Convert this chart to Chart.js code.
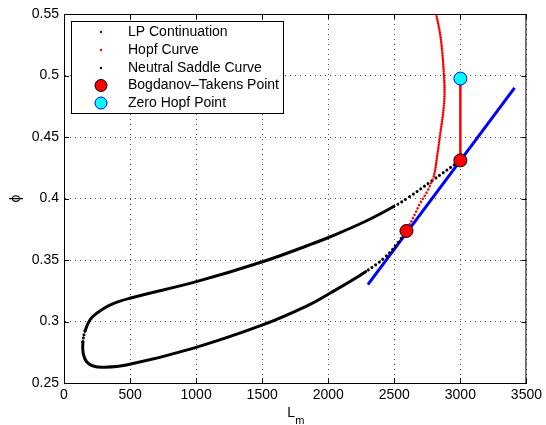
<!DOCTYPE html>
<html><head><meta charset="utf-8">
<script src="https://cdn.jsdelivr.net/npm/chart.js@4.4.0/dist/chart.umd.min.js"></script>
<style>html,body{margin:0;padding:0;background:#fff;}canvas{display:block;}</style>
</head><body>
<canvas id="c" width="546" height="425"></canvas>
<script>
// ---- data ----
const xTickValues = [0, 500, 1000, 1500, 2000, 2500, 3000, 3500];
const xTickLabels = ['0', '500', '1000', '1500', '2000', '2500', '3000', '3500'];
const yTickValues = [0.25, 0.3, 0.35, 0.4, 0.45, 0.5, 0.55];
const yTickLabels = ['0.25', '0.3', '0.35', '0.4', '0.45', '0.5', '0.55'];

const seriesNames = ['LP Continuation', 'Hopf Curve', 'Neutral Saddle Curve', 'Bogdanov\u2013Takens Point', 'Zero Hopf Point'];

const lpX = [2300, 3410];
const lpY = [0.330, 0.490];

const hopf1X = [2592, 2650, 2700, 2750, 2798, 2825, 2848, 2870, 2880, 2876, 2862, 2845, 2817, 2812];
const hopf1Y = [0.3736, 0.386, 0.397, 0.406, 0.418, 0.435, 0.453, 0.470, 0.485, 0.500, 0.520, 0.535, 0.550, 0.556];

const hopf2X = [3000, 3000];
const hopf2Y = [0.431, 0.4975];

const nsX = [2592, 2534, 2434, 2283, 2006, 1855, 1503, 975, 472, 296, 221, 171, 145, 143, 160, 196, 246, 347, 498, 1001, 1503, 1855, 2006, 2283, 2496, 2609, 2786, 3000];
const nsY = [0.3736, 0.3650, 0.3527, 0.3405, 0.3225, 0.3135, 0.2972, 0.2782, 0.2646, 0.2628, 0.2638, 0.2673, 0.2741, 0.2835, 0.2925, 0.3012, 0.3066, 0.3134, 0.3189, 0.3324, 0.3486, 0.3622, 0.3685, 0.3815, 0.3935, 0.4010, 0.4145, 0.4310];

const btX = [2592, 3000];
const btY = [0.3736, 0.4310];

const zhX = [3000];
const zhY = [0.4975];

const pts = (xs, ys) => xs.map((x, i) => ({x: x, y: ys[i]}));

const FONT = '"Liberation Sans", Arial, Helvetica, sans-serif';

const frame = {
  id: 'frame',
  afterDatasetsDraw(chart) {
    const {ctx, chartArea: a, scales} = chart;
    ctx.save();
    ctx.strokeStyle = '#000';
    ctx.lineWidth = 1;
    ctx.strokeRect(a.left + 0.5, a.top + 0.5, a.right - a.left - 1, a.bottom - a.top);
    const tl = 5;
    ctx.beginPath();
    xTickValues.forEach(v => {
      const px = Math.round(scales.x.getPixelForValue(v)) + 0.5;
      ctx.moveTo(px, a.bottom); ctx.lineTo(px, a.bottom - tl);
      ctx.moveTo(px, a.top); ctx.lineTo(px, a.top + tl);
    });
    yTickValues.forEach(v => {
      const py = Math.round(scales.y.getPixelForValue(v)) + 0.5;
      ctx.moveTo(a.left, py); ctx.lineTo(a.left + tl, py);
      ctx.moveTo(a.right, py); ctx.lineTo(a.right - tl, py);
    });
    ctx.stroke();
    ctx.restore();
  },
  afterDraw(chart) {
    const {ctx, chartArea: a} = chart;
    ctx.save();
    // legend
    const lx = 71, ly = 21, lw = 212, lh = 92;
    ctx.fillStyle = '#fff';
    ctx.fillRect(lx, ly, lw, lh);
    const rows = [32, 50, 68, 85.5, 103];
    const marks = [
      {t: 'dot', c: '#0000ff'},
      {t: 'dot', c: '#ff0000'},
      {t: 'dot', c: '#000000'},
      {t: 'circle', c: '#ff0000', b: '#000000'},
      {t: 'circle', c: '#00ffff', b: '#0000ff'}
    ];
    ctx.font = '14px ' + FONT;
    ctx.textBaseline = 'middle';
    ctx.textAlign = 'left';
    seriesNames.forEach((name, i) => {
      const m = marks[i];
      const y = rows[i];
      ctx.beginPath();
      if (m.t === 'dot') {
        ctx.fillStyle = m.c;
        ctx.arc(101, y, 1.2, 0, Math.PI * 2);
        ctx.fill();
      } else {
        ctx.fillStyle = m.c;
        ctx.strokeStyle = m.b;
        ctx.lineWidth = 1;
        ctx.arc(101, y, 6, 0, Math.PI * 2);
        ctx.fill();
        ctx.stroke();
      }
      ctx.fillStyle = '#000';
      ctx.fillText(name, 128, y);
    });
    ctx.strokeStyle = '#000';
    ctx.lineWidth = 1;
    ctx.strokeRect(lx + 0.5, ly + 0.5, lw, lh);
    // axis titles
    ctx.fillStyle = '#000';
    ctx.font = '14px ' + FONT;
    ctx.textAlign = 'center';
    ctx.textBaseline = 'alphabetic';
    const cx = (a.left + a.right) / 2 - 4;
    ctx.fillText('L', cx, 417);
    ctx.font = '11px ' + FONT;
    ctx.textAlign = 'left';
    ctx.fillText('m', cx + 4, 424);
    ctx.font = '14px ' + FONT;
    ctx.save();
    ctx.translate(16, (a.top + a.bottom) / 2);
    ctx.rotate(-Math.PI / 2);
    ctx.textAlign = 'center';
    ctx.textBaseline = 'middle';
    ctx.fillText('\u03d5', 0, 0);
    ctx.restore();
    ctx.restore();
  }
};

new Chart(document.getElementById('c'), {
  type: 'scatter',
  data: {
    datasets: [
      {label: 'Zero Hopf Point', data: pts(zhX, zhY), pointRadius: 6.5, pointBackgroundColor: '#00ffff', pointBorderColor: '#0000ff', pointBorderWidth: 1, order: 0},
      {label: 'Bogdanov\u2013Takens Point', data: pts(btX, btY), pointRadius: 6.5, pointBackgroundColor: '#ff0000', pointBorderColor: '#000000', pointBorderWidth: 1, order: 1},
      {label: 'LP Continuation', data: pts(lpX, lpY), showLine: true, borderColor: '#0000ff', borderWidth: 3, pointRadius: 0, order: 4},
      {label: 'Neutral Saddle Curve', data: pts(nsX, nsY), showLine: true, borderColor: '#000000', borderWidth: 3, pointRadius: 0, tension: 0.4, borderCapStyle: 'round', order: 3,
        segment: {borderDash: ctx => (ctx.p0DataIndex < 3 || ctx.p0DataIndex >= 24) ? [0.1, 4.5] : (ctx.p0DataIndex === 13 ? [0.1, 3.5] : undefined)}},
      {label: 'Hopf Curve', data: pts(hopf1X, hopf1Y), showLine: true, borderColor: '#ff0000', borderWidth: 2.5, pointRadius: 0, tension: 0.35, borderCapStyle: 'round', order: 2,
        segment: {borderDash: ctx => ctx.p0DataIndex < 4 ? [0.1, 3.5] : [0.1, 2.2]}},
      {label: 'Hopf Curve 2', data: pts(hopf2X, hopf2Y), showLine: true, borderColor: '#ff0000', borderWidth: 2.5, pointRadius: 0, order: 2}
    ]
  },
  options: {
    responsive: false,
    animation: false,
    layout: {padding: {left: 0, top: 14, right: 18, bottom: 0}},
    plugins: {legend: {display: false}, tooltip: {enabled: false}},
    scales: {
      x: {
        type: 'linear', min: 0, max: 3500,
        afterBuildTicks: s => { s.ticks = xTickValues.map(v => ({value: v})); },
        afterFit: s => { s.height = 42; },
        ticks: {callback: (v) => xTickLabels[xTickValues.indexOf(v)], font: {family: FONT, size: 14}, color: '#000', padding: 4, maxRotation: 0, autoSkip: false},
        grid: {color: 'rgba(0,0,0,0.7)', lineWidth: 1, drawTicks: false},
        border: {display: true, color: '#000', dash: [1, 4]}
      },
      y: {
        type: 'linear', min: 0.25, max: 0.55,
        afterBuildTicks: s => { s.ticks = yTickValues.map(v => ({value: v})); },
        afterFit: s => { s.width = 64; },
        ticks: {callback: (v) => { const i = yTickValues.findIndex(t => Math.abs(t - v) < 1e-9); return yTickLabels[i]; }, font: {family: FONT, size: 14}, color: '#000', padding: 5, autoSkip: false},
        grid: {color: 'rgba(0,0,0,0.7)', lineWidth: 1, drawTicks: false},
        border: {display: true, color: '#000', dash: [1, 4]}
      }
    }
  },
  plugins: [frame]
});
</script>
</body></html>
